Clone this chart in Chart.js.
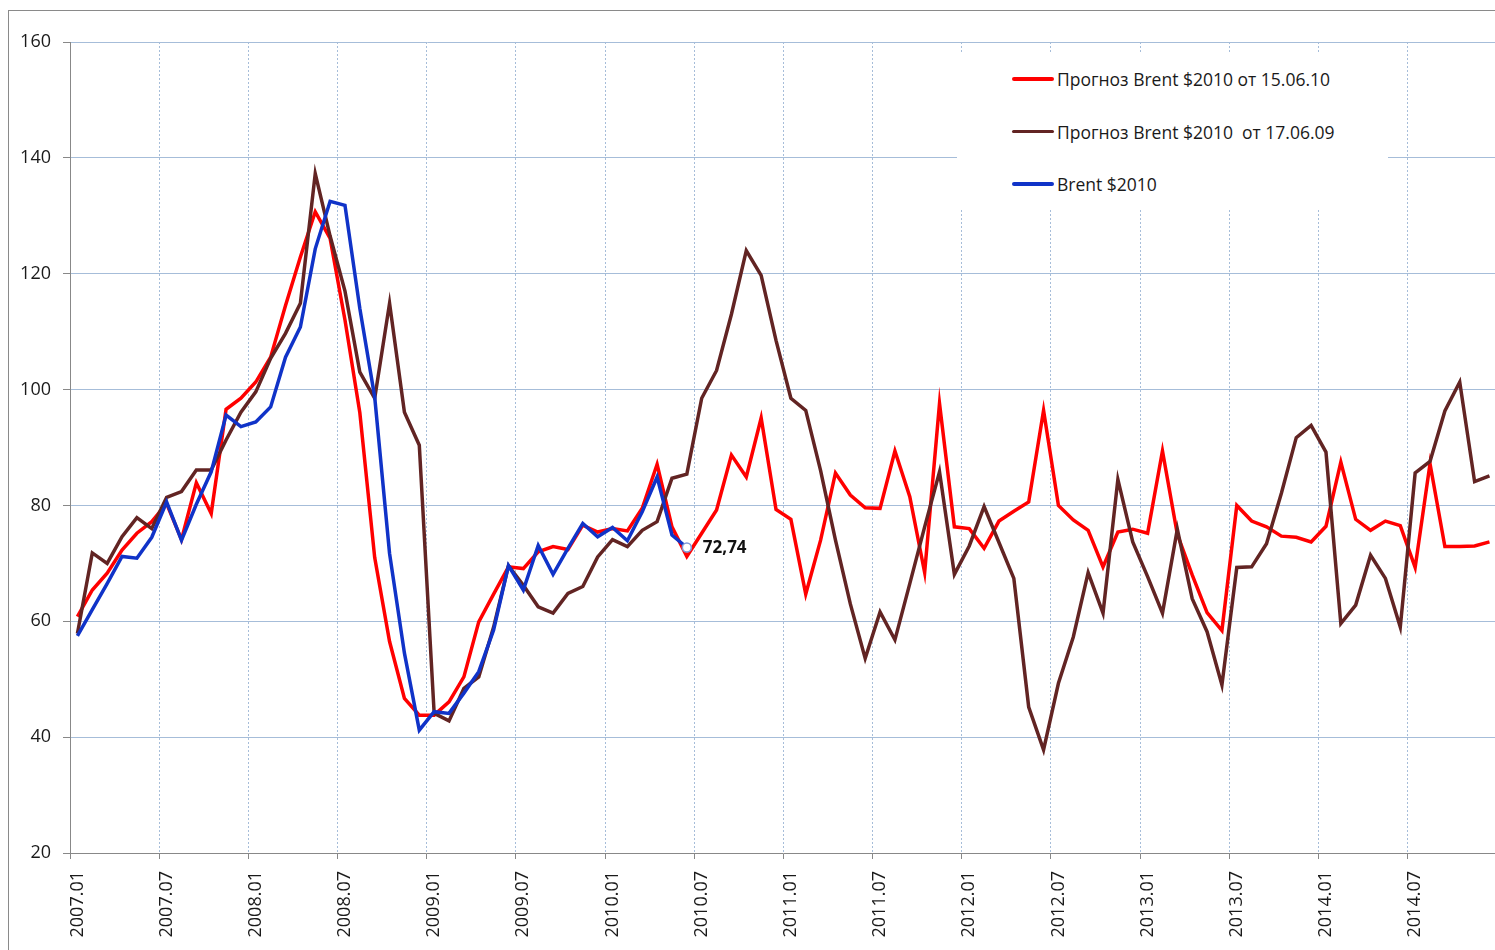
<!DOCTYPE html>
<html>
<head>
<meta charset="utf-8">
<title>Brent $2010</title>
<script src="https://cdn.jsdelivr.net/npm/chart.js@4.4.0/dist/chart.umd.min.js"></script>
<style>
  html, body { margin: 0; padding: 0; background: #fff; }
  #wrap { position: relative; width: 1495px; height: 950px; overflow: hidden; }
  #frame { position: absolute; left: 8px; top: 10px; width: 1600px; height: 1000px;
           border-left: 1.5px solid #8a8a8a; border-top: 1.5px solid #8a8a8a; }
  /* a bit wider than the page: the x axis keeps some right padding for its last label */
  #chart-box { position: absolute; left: 0; top: 0; width: 1503px; height: 950px; }
  #legend { position: absolute; left: 957px; top: 52px; width: 431px; height: 158px; background: #fff;
            font: 17.5px "Open Sans", sans-serif; color: #1a1a1a; }
  #legend .row { position: absolute; left: 0; height: 30px; width: 431px; }
  #legend .swatch { position: absolute; left: 55px; top: 13px; width: 42px; height: 3.5px; border-radius: 2px; }
  #legend .txt { position: absolute; left: 100px; top: 2px; line-height: 26px; white-space: pre; }
</style>
</head>
<body>
<div id="wrap">
  <div id="frame"></div>
  <div id="chart-box"><canvas id="chart-brent"></canvas></div>
  <div id="legend"></div>
</div>
<script>
// ---- data ----------------------------------------------------------------
const years  = [2007, 2008, 2009, 2010, 2011, 2012, 2013, 2014];
const months = ['01','02','03','04','05','06','07','08','09','10','11','12'];

// forecast made 15.06.10
const forecast2010 = [
  60.8, 65.4, 68.3, 72.3, 75.2, 77.2, 80.3, 74.1, 83.9, 78.6, 96.6, 98.5,
  101.3, 105.6, 114.5, 122.9, 130.7, 126.1, 112.0, 96.0, 71.0, 56.5, 46.7, 43.8,
  43.8, 46.1, 50.4, 59.9, 64.7, 69.4, 69.1, 72.0, 72.9, 72.4, 76.6, 75.4,
  76.0, 75.6, 79.5, 87.1, 76.3, 71.2, 75.2, 79.2, 88.7, 84.9, 95.1, 79.3,
  77.6, 64.7, 74.0, 85.6, 81.8, 79.6, 79.5, 89.4, 81.5, 68.4, 97.6, 76.3,
  76.0, 72.6, 77.3, 79.0, 80.6, 96.4, 80.0, 77.5, 75.7, 69.4, 75.4, 75.9,
  75.2, 89.4, 75.0, 68.0, 61.5, 58.4, 80.0, 77.3, 76.3, 74.7, 74.5, 73.7,
  76.4, 87.5, 77.6, 75.7, 77.3, 76.5, 69.3, 87.2, 72.9, 72.9, 73.0, 73.7
];

// forecast made 17.06.09
const forecast2009 = [
  57.9, 71.8, 70.0, 74.6, 77.9, 76.0, 81.4, 82.4, 86.1, 86.1, 91.3, 96.1,
  99.6, 105.4, 109.7, 114.9, 137.3, 126.5, 117.0, 103.0, 98.5, 114.9, 96.1, 90.4,
  44.1, 42.8, 48.4, 50.4, 59.0, 69.6, 66.2, 62.5, 61.4, 64.8, 66.0, 71.1,
  74.1, 72.9, 75.7, 77.2, 84.7, 85.4, 98.5, 103.3, 113.0, 124.0, 119.7, 108.5,
  98.5, 96.4, 86.0, 74.0, 63.0, 53.6, 61.6, 56.8, 66.5, 76.3, 85.8, 68.1,
  73.0, 79.8, 73.6, 67.4, 45.2, 37.8, 49.3, 57.3, 68.4, 61.4, 84.5, 73.7,
  67.7, 61.4, 75.9, 63.9, 58.2, 49.0, 69.3, 69.4, 73.4, 82.1, 91.7, 93.8,
  89.2, 59.6, 62.8, 71.4, 67.4, 59.0, 85.6, 87.6, 96.3, 101.3, 84.1, 85.1
];

// actual Brent in 2010 dollars, through 2010.06
const brentActual = [
  57.5, 62.0, 66.5, 71.2, 70.9, 74.5, 80.6, 74.0, 80.2, 85.8, 95.6, 93.6,
  94.4, 97.0, 105.6, 110.8, 124.3, 132.5, 131.8, 114.0, 98.7, 71.7, 54.5, 41.2,
  44.4, 44.1, 47.6, 51.3, 58.5, 69.6, 65.4, 73.1, 68.1, 72.6, 76.9, 74.6,
  76.2, 73.9, 78.9, 84.9, 74.9, 72.74
];

const seriesNames  = ['Прогноз Brent $2010 от 15.06.10', 'Прогноз Brent $2010  от 17.06.09', 'Brent $2010'];
const seriesColors = ['#ff0000', '#622423', '#1033c8'];

const yTicks = [20, 40, 60, 80, 100, 120, 140, 160];

const labels = [];
years.forEach(y => months.forEach(m => labels.push(y + '.' + m)));

// ---- styles --------------------------------------------------------------
const gridBlue = '#a6bdd9';
const axisGray = '#888888';
const tickFont = { family: '"Open Sans", sans-serif', size: 18 };

// value label next to the last actual point
const lastValueLabel = {
  id: 'lastValueLabel',
  afterDatasetsDraw(chart) {
    const i = brentActual.length - 1;
    const pt = chart.getDatasetMeta(2).data[i];
    if (!pt) return;
    const ctx = chart.ctx;
    ctx.save();
    ctx.font = 'bold 17px "Open Sans", sans-serif';
    ctx.fillStyle = '#111';
    ctx.textAlign = 'left';
    ctx.textBaseline = 'middle';
    ctx.fillText(brentActual[i].toFixed(2).replace('.', ','), pt.x + 16, pt.y + 1);
    ctx.restore();
  }
};

function lineSet(idx, data, order) {
  return {
    label: seriesNames[idx], data,
    borderColor: seriesColors[idx], backgroundColor: seriesColors[idx],
    borderWidth: 3.5, pointRadius: 0, tension: 0, fill: false, order
  };
}

const actualSet = lineSet(2, brentActual, 1);
actualSet.pointRadius = c => c.dataIndex === brentActual.length - 1 ? 4.5 : 0;
actualSet.pointBackgroundColor = '#ffffff';
actualSet.pointBorderColor = '#7f98d6';
actualSet.pointBorderWidth = 1.6;

new Chart(document.getElementById('chart-brent'), {
  type: 'line',
  data: {
    labels,
    datasets: [lineSet(0, forecast2010, 3), lineSet(1, forecast2009, 2), actualSet]
  },
  options: {
    responsive: true, maintainAspectRatio: false, animation: false,
    layout: { padding: { top: 42, left: 0, right: 0, bottom: 0 } },
    plugins: { legend: { display: false }, tooltip: { enabled: false } },
    scales: {
      x: {
        type: 'category', offset: true,
        grid: {
          offset: true, lineWidth: 1, tickLength: 6, tickWidth: 1,
          color: c => (c.index % 6 === 0 && c.index > 0) ? gridBlue : 'transparent',
          tickColor: c => c.index % 6 === 0 ? axisGray : 'transparent'
        },
        border: { color: axisGray, width: 1, dash: [2, 2] },
        ticks: {
          autoSkip: false, minRotation: 90, maxRotation: 90, padding: 12,
          color: '#1a1a1a', font: tickFont,
          callback(value, index) { return index % 6 === 0 ? this.getLabelForValue(value) : ''; }
        },
        afterFit(scale) { scale.height = 97; scale.paddingLeft = 0; scale.paddingRight = 0; }
      },
      y: {
        min: 20, max: 160,
        afterBuildTicks(scale) { scale.ticks = yTicks.map(v => ({ value: v })); },
        grid: {
          lineWidth: 1, tickLength: 7, tickColor: axisGray,
          color: c => (c.tick && c.tick.value === 20) ? 'transparent' : gridBlue
        },
        border: { color: axisGray, width: 1 },
        ticks: { padding: 12, color: '#1a1a1a', font: tickFont },
        afterFit(scale) { scale.width = 70; }
      }
    }
  },
  plugins: [lastValueLabel]
});

// ---- legend --------------------------------------------------------------
const legendRows = [27, 79.5, 132];
const legend = document.getElementById('legend');
seriesNames.forEach((name, i) => {
  const row = document.createElement('div');
  row.className = 'row';
  row.style.top = (legendRows[i] - 15) + 'px';
  row.innerHTML = '<span class="swatch" style="background:' + seriesColors[i] + '"></span>' +
                  '<span class="txt"></span>';
  row.querySelector('.txt').textContent = name;
  legend.appendChild(row);
});
</script>
</body>
</html>
